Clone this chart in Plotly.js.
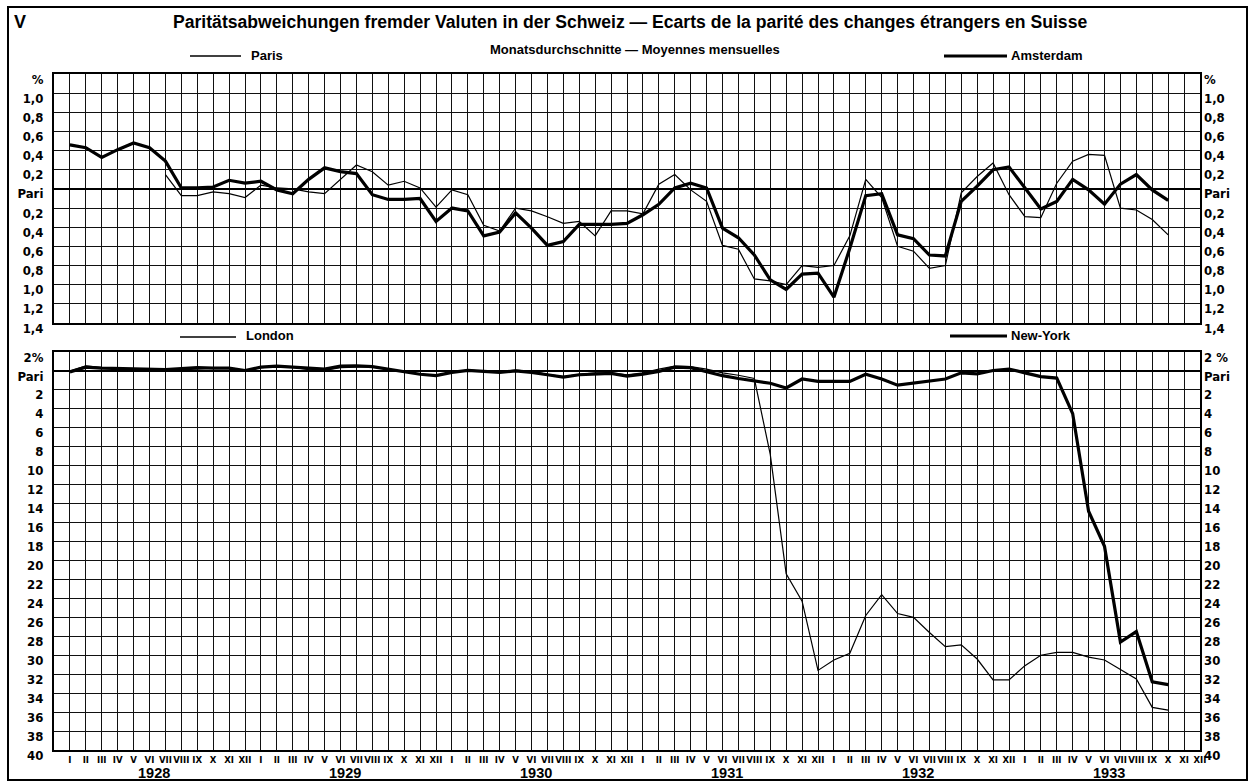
<!DOCTYPE html>
<html><head><meta charset="utf-8">
<script src="https://cdn.plot.ly/plotly-3.0.1.min.js"></script>
<style>html,body{margin:0;padding:0;background:#fff;} #chart{width:1258px;height:781px;}</style>
</head><body><div id="chart"></div>
<script>
// ---- categories ----
const years = ["1928", "1929", "1930", "1931", "1932", "1933"];
const romanMonths = ["I","II","III","IV","V","VI","VII","VIII","IX","X","XI","XII"];
const months = [];
const monthTickText = [];
years.forEach(y => romanMonths.forEach(m => { months.push(m + " " + y); monthTickText.push(m); }));

// ---- series (percent deviation from parity; + above par, - below par) ----
// Paris: from VII 1928 to X 1933
const parisStart = 6;
const paris = [
  0.15, -0.07, -0.07, -0.03, -0.05, -0.09, 0.04, 0.01, 0.00, -0.03,
  -0.05, 0.10, 0.25, 0.18, 0.04, 0.08, 0.01, -0.19, -0.01, -0.06,
  -0.38, -0.44, -0.20, -0.23, -0.29, -0.36, -0.34, -0.49, -0.23, -0.23,
  -0.26, 0.05, 0.15, -0.01, -0.13, -0.59, -0.63, -0.94, -0.96, -1.00,
  -0.80, -0.82, -0.80, -0.49, 0.10, -0.09, -0.60, -0.65, -0.83, -0.80,
  -0.04, 0.13, 0.27, -0.06, -0.29, -0.30, 0.06, 0.29, 0.36, 0.35,
  -0.20, -0.22, -0.32, -0.48
];
// Amsterdam: I 1928 to X 1933
const amsterdam = [
  0.46, 0.43, 0.33, 0.41, 0.48, 0.43, 0.29, 0.01, 0.01, 0.02,
  0.09, 0.06, 0.08, -0.01, -0.05, 0.10, 0.22, 0.18, 0.16, -0.06,
  -0.11, -0.11, -0.10, -0.34, -0.20, -0.23, -0.49, -0.45, -0.25, -0.41,
  -0.59, -0.55, -0.37, -0.37, -0.37, -0.36, -0.27, -0.16, 0.01, 0.06,
  0.01, -0.41, -0.51, -0.69, -0.95, -1.05, -0.89, -0.88, -1.13, -0.62,
  -0.07, -0.05, -0.48, -0.52, -0.69, -0.70, -0.13, 0.03, 0.20, 0.23,
  0.01, -0.21, -0.13, 0.10, -0.01, -0.16, 0.05, 0.15, -0.01, -0.12
];
// London: I 1928 to X 1933
const london = [
  0.0, 0.55, 0.35, 0.25, 0.2, 0.2, 0.15, 0.2, 0.1, 0.0,
  0.05, 0.0, 0.35, 0.45, 0.4, 0.15, 0.05, 0.35, 0.4, 0.4,
  0.2, -0.05, -0.35, -0.45, -0.1, 0.1, 0.0, -0.1, 0.1, -0.05,
  -0.35, -0.6, -0.35, -0.2, -0.2, -0.4, -0.2, 0.2, 0.5, 0.45,
  0.2, -0.2, -0.45, -0.8, -8.8, -21.4, -24.3, -31.6, -30.5, -29.8,
  -25.8, -23.6, -25.6, -26.0, -27.6, -29.1, -28.9, -30.4, -32.6, -32.6,
  -31.1, -30.0, -29.7, -29.7, -30.2, -30.5, -31.5, -32.5, -35.5, -35.8
];
// New-York: I 1928 to X 1933
const newYork = [
  -0.1, 0.4, 0.3, 0.25, 0.2, 0.2, 0.15, 0.25, 0.35, 0.3,
  0.3, 0.05, 0.4, 0.5, 0.4, 0.25, 0.2, 0.5, 0.55, 0.45,
  0.2, -0.1, -0.35, -0.5, -0.15, 0.05, -0.05, -0.15, 0.0, -0.15,
  -0.4, -0.65, -0.4, -0.3, -0.25, -0.55, -0.35, -0.05, 0.4, 0.35,
  -0.05, -0.5, -0.8, -1.05, -1.3, -1.8, -0.85, -1.1, -1.1, -1.1,
  -0.35, -0.85, -1.5, -1.3, -1.1, -0.85, -0.2, -0.3, 0.05, 0.2,
  -0.2, -0.6, -0.75, -4.5, -14.8, -18.5, -28.6, -27.5, -32.8, -33.1
];

// ---- tick labels ----
const topTickVals = [1.2, 1.0, 0.8, 0.6, 0.4, 0.2, 0, -0.2, -0.4, -0.6, -0.8, -1.0, -1.2, -1.4];
const topTickText = ["%", "1,0", "0,8", "0,6", "0,4", "0,2", "Pari", "0,2", "0,4", "0,6", "0,8", "1,0", "1,2", "1,4"];
const botTickVals = [2, 0, -2, -4, -6, -8, -10, -12, -14, -16, -18, -20, -22, -24, -26, -28, -30, -32, -34, -36, -38, -40];
const botTickTextL = ["2%", "Pari", "2", "4", "6", "8", "10", "12", "14", "16", "18", "20", "22", "24", "26", "28", "30", "32", "34", "36", "38", "40"];
const botTickTextR = ["2 %", "Pari", "2", "4", "6", "8", "10", "12", "14", "16", "18", "20", "22", "24", "26", "28", "30", "32", "34", "36", "38", "40"];

// ---- layout helpers ----
const W = 1258, H = 781;
const px = v => v / W;
const py = v => 1 - v / H;
const narrow = "Liberation Sans Narrow, DejaVu Sans Condensed, Arial Narrow, sans-serif";
const sans = "Liberation Sans, Arial, DejaVu Sans, sans-serif";
const xDom = [px(54), px(1200)];
const gridCol = "#111";

const xBase = {
  type: "category", categoryorder: "array", categoryarray: months,
  range: [-1, 71], domain: xDom, tickvals: months, ticks: "",
  showgrid: true, gridcolor: gridCol, gridwidth: 1,
  showline: true, linecolor: "#000", linewidth: 2, mirror: true, zeroline: false
};
const yFont = {family: narrow, size: 13, color: "#000", weight: "bold"};
const lblFont = {family: sans, size: 13, color: "#000", weight: "bold"};

const traces = [
  {x: months.slice(parisStart, parisStart + paris.length), y: paris, xaxis: "x", yaxis: "y",
   mode: "lines", line: {color: "#000", width: 1.2}, name: "Paris"},
  {x: months.slice(0, amsterdam.length), y: amsterdam, xaxis: "x", yaxis: "y",
   mode: "lines", line: {color: "#000", width: 3.2}, name: "Amsterdam"},
  {x: months.slice(0, london.length), y: london, xaxis: "x2", yaxis: "y2",
   mode: "lines", line: {color: "#000", width: 1.2}, name: "London"},
  {x: months.slice(0, newYork.length), y: newYork, xaxis: "x2", yaxis: "y2",
   mode: "lines", line: {color: "#000", width: 3.2}, name: "New-York"},
  // invisible carriers for right-hand axes
  {x: months.slice(0, amsterdam.length), y: amsterdam, xaxis: "x", yaxis: "y3",
   mode: "lines", line: {width: 0}, opacity: 0, hoverinfo: "skip", showlegend: false},
  {x: months.slice(0, newYork.length), y: newYork, xaxis: "x2", yaxis: "y4",
   mode: "lines", line: {width: 0}, opacity: 0, hoverinfo: "skip", showlegend: false}
];

function label(text, x, y, xanchor, font) {
  return {text: text, xref: "paper", yref: "paper", x: px(x), y: py(y),
    xanchor: xanchor, yanchor: "middle", showarrow: false, font: font};
}

const layout = {
  width: W, height: H, margin: {l: 0, r: 0, t: 0, b: 0},
  paper_bgcolor: "#fff", plot_bgcolor: "#fff", showlegend: false,
  xaxis: Object.assign({}, xBase, {anchor: "y", showticklabels: false}),
  xaxis2: Object.assign({}, xBase, {anchor: "y2", showticklabels: true, ticktext: monthTickText,
    tickangle: 0, tickfont: {family: narrow, size: 9.5, color: "#000", weight: "bold"}}),
  yaxis: {domain: [py(323), py(74)], anchor: "x", range: [-1.4, 1.2],
    tickvals: topTickVals, ticktext: topTickText, ticks: "", tickfont: yFont,
    ticklabelshift: 5, ticklabelstandoff: 6,
    showgrid: true, gridcolor: gridCol, gridwidth: 1,
    zeroline: true, zerolinecolor: "#000", zerolinewidth: 2,
    showline: true, linecolor: "#000", linewidth: 2, mirror: true},
  yaxis3: {overlaying: "y", side: "right", anchor: "x", range: [-1.4, 1.2],
    tickvals: topTickVals, ticktext: topTickText, ticks: "", tickfont: yFont,
    ticklabelshift: 5, ticklabelstandoff: 3,
    showgrid: false, zeroline: false, showline: false},
  yaxis2: {domain: [py(750), py(352)], anchor: "x2", range: [-40, 2],
    tickvals: botTickVals, ticktext: botTickTextL, ticks: "", tickfont: yFont,
    ticklabelshift: 5, ticklabelstandoff: 6,
    showgrid: true, gridcolor: gridCol, gridwidth: 1,
    zeroline: true, zerolinecolor: "#000", zerolinewidth: 2,
    showline: true, linecolor: "#000", linewidth: 2, mirror: true},
  yaxis4: {overlaying: "y2", side: "right", anchor: "x2", range: [-40, 2],
    tickvals: botTickVals, ticktext: botTickTextR, ticks: "", tickfont: yFont,
    ticklabelshift: 5, ticklabelstandoff: 3,
    showgrid: false, zeroline: false, showline: false},
  shapes: [
    {type: "rect", xref: "paper", yref: "paper", x0: px(8), x1: px(1247), y0: py(780), y1: py(7),
     line: {color: "#000", width: 2}},
    {type: "line", xref: "paper", yref: "paper", x0: px(190), x1: px(241), y0: py(56), y1: py(56),
     line: {color: "#000", width: 1.3}},
    {type: "line", xref: "paper", yref: "paper", x0: px(944), x1: px(1007), y0: py(56), y1: py(56),
     line: {color: "#000", width: 3}},
    {type: "line", xref: "paper", yref: "paper", x0: px(180), x1: px(236), y0: py(337), y1: py(337),
     line: {color: "#000", width: 1.3}},
    {type: "line", xref: "paper", yref: "paper", x0: px(950), x1: px(1007), y0: py(336), y1: py(336),
     line: {color: "#000", width: 3}}
  ],
  annotations: [
    label("V", 20, 22, "center", {family: sans, size: 18, color: "#000", weight: "bold"}),
    label("Paritätsabweichungen fremder Valuten in der Schweiz — Ecarts de la parité des changes étrangers en Suisse",
      630, 22, "center", {family: sans, size: 17.6, color: "#000", weight: "bold"}),
    label("Monatsdurchschnitte — Moyennes mensuelles", 635, 50, "center",
      {family: sans, size: 13, color: "#000", weight: "bold"}),
    label("Paris", 249, 55, "left", lblFont),
    label("Amsterdam", 1009, 55, "left", lblFont),
    label("London", 244, 335, "left", lblFont),
    label("New-York", 1009, 335, "left", lblFont)
  ].concat(years.map((y, i) => ({
    text: y, xref: "x2", yref: "paper", x: 12 * i + 5.3, y: py(773), yanchor: "middle", showarrow: false,
    font: {family: sans, size: 14.5, color: "#000", weight: "bold"}
  })))
};

Plotly.newPlot("chart", traces, layout, {staticPlot: true, displayModeBar: false});
</script>
</body></html>
